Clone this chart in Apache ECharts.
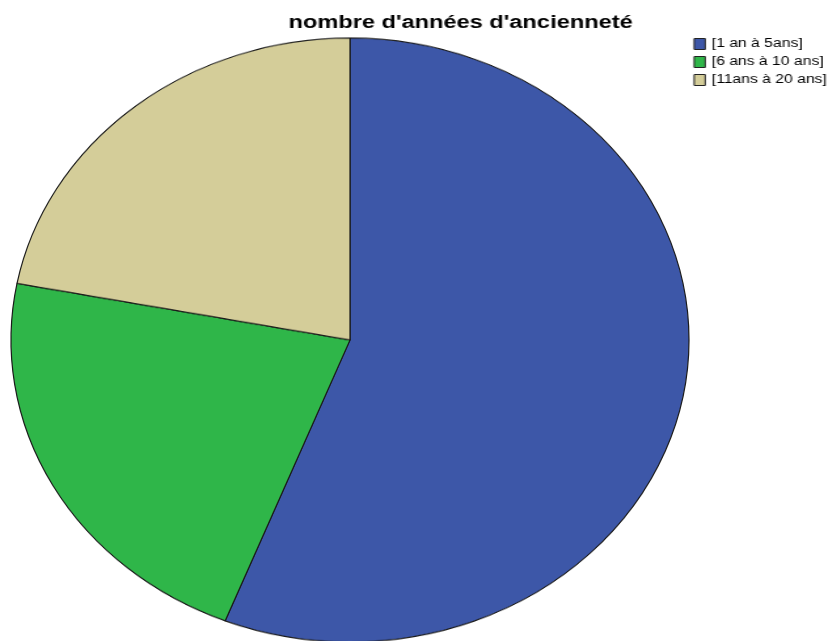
<!DOCTYPE html>
<html>
<head>
<meta charset="utf-8">
<script src="https://cdn.jsdelivr.net/npm/echarts@6/dist/echarts.min.js"></script>
<style>
  html, body { margin: 0; padding: 0; background: #fff; overflow: hidden; }
  #wrap { position: relative; width: 832px; height: 641px; overflow: hidden; }
  /* pie layer: drawn as a circle and squashed vertically into an ellipse */
  #pie { position: absolute; left: 0; top: 0; width: 832px; height: 740px;
         transform: scaleY(0.8909); transform-origin: 0 0; }
  /* text layer: widened horizontally like the rest of the figure */
  #overlay { position: absolute; left: 0; top: 0; width: 636px; height: 641px;
             transform: scaleX(1.31); transform-origin: 0 0; }
</style>
</head>
<body>
<div id="wrap">
  <div id="pie"></div>
  <div id="overlay"></div>
</div>
<script>
const chartTitle = "nombre d'années d'ancienneté";
const categories = ["[1 an à 5ans]", "[6 ans à 10 ans]", "[11ans à 20 ans]"];
const counts = [28, 11, 11];
const colors = ["#3d57a8", "#2fb649", "#d4cd99"];

const scaleY = 0.8909;
const stretchX = 1.31;
const pieData = categories.map((name, i) => ({
  name: name, value: counts[i], itemStyle: { color: colors[i] }
}));

const pieChart = echarts.init(document.getElementById('pie'), null, { renderer: 'canvas' });
pieChart.setOption({
  animation: false,
  series: [{
    type: 'pie',
    center: [350, 340 / scaleY],
    radius: [0, 339],
    startAngle: 90,
    clockwise: true,
    label: { show: false },
    labelLine: { show: false },
    emphasis: { disabled: true },
    itemStyle: { borderColor: '#1a1a1a', borderWidth: 1.2 },
    data: pieData
  }]
});

// Title and legend layer; the series here only feeds the legend
const overlay = echarts.init(document.getElementById('overlay'), null, { renderer: 'canvas' });
overlay.setOption({
  animation: false,
  title: {
    text: chartTitle,
    left: 282 / stretchX,
    top: 9,
    textStyle: { fontFamily: 'Liberation Sans, Arial', fontSize: 18, fontWeight: 'bold', color: '#000' }
  },
  legend: {
    orient: 'vertical',
    left: 687 / stretchX,
    top: 33,
    itemWidth: 11 / stretchX,
    itemHeight: 11,
    itemGap: 6,
    itemTextGap: 4,
    icon: 'rect',
    selectedMode: false,
    itemStyle: { borderColor: '#222', borderWidth: 1 },
    textStyle: { fontFamily: 'Liberation Sans, Arial', fontSize: 12, color: '#000' },
    data: categories
  },
  series: [{
    type: 'pie',
    radius: [0, 0],
    center: [-100, -100],
    label: { show: false },
    silent: true,
    data: pieData
  }]
});
</script>
</body>
</html>
